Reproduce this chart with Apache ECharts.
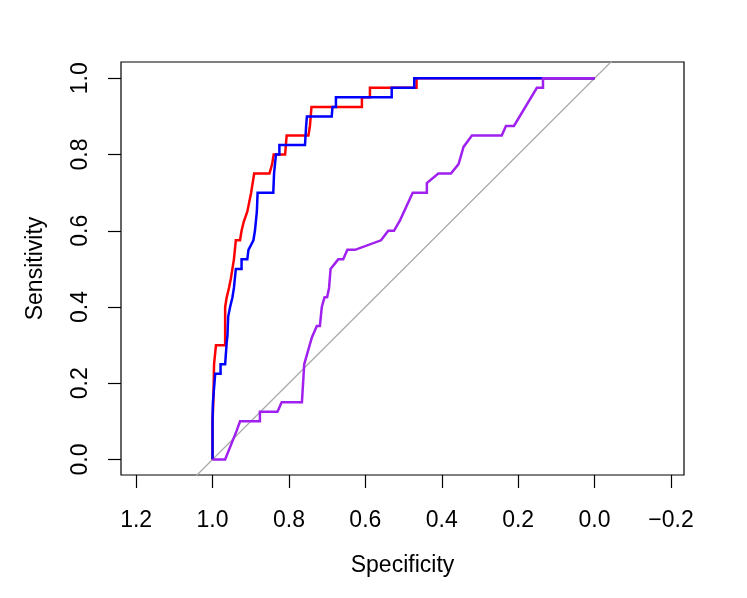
<!DOCTYPE html>
<html>
<head>
<meta charset="utf-8">
<script src="https://cdn.jsdelivr.net/npm/echarts@6/dist/echarts.min.js"></script>
<style>
  html, body { margin: 0; padding: 0; background: #fff; }
  #roc { width: 747px; height: 598px; }
</style>
</head>
<body>
<div id="roc"></div>
<script>
// ROC curves, [specificity, sensitivity]
var redRoc = [
    [1.0, 0], [1.0, 0.1], [0.998, 0.15], [0.996, 0.25], [0.991, 0.3], [0.967, 0.3],
    [0.967, 0.4], [0.963, 0.425], [0.957, 0.45], [0.952, 0.475], [0.948, 0.5],
    [0.944, 0.525], [0.939, 0.575], [0.928, 0.575], [0.924, 0.6], [0.918, 0.625],
    [0.909, 0.65], [0.904, 0.675], [0.899, 0.7], [0.895, 0.725], [0.891, 0.75],
    [0.851, 0.75], [0.844, 0.775], [0.840, 0.8], [0.810, 0.8], [0.806, 0.85],
    [0.749, 0.85], [0.745, 0.875], [0.741, 0.925], [0.609, 0.925], [0.609, 0.95],
    [0.588, 0.95], [0.588, 0.975], [0.466, 0.975], [0.466, 1.0], [0, 1.0]
];
var blueRoc = [
    [1.0, 0], [1.0, 0.1], [0.999, 0.1], [0.999, 0.15], [0.993, 0.225], [0.979, 0.225],
    [0.979, 0.25], [0.967, 0.25], [0.963, 0.306], [0.961, 0.325], [0.959, 0.375],
    [0.954, 0.4], [0.948, 0.425], [0.944, 0.45], [0.939, 0.5], [0.924, 0.5],
    [0.924, 0.525], [0.909, 0.525], [0.906, 0.55], [0.893, 0.575], [0.889, 0.6],
    [0.884, 0.65], [0.882, 0.7], [0.841, 0.7], [0.839, 0.75], [0.834, 0.8],
    [0.825, 0.8], [0.825, 0.825], [0.758, 0.825], [0.755, 0.875], [0.753, 0.9],
    [0.688, 0.9], [0.686, 0.925], [0.677, 0.925], [0.677, 0.95], [0.531, 0.95],
    [0.531, 0.975], [0.472, 0.975], [0.472, 1.0], [0, 1.0]
];
var purpleRoc = [
    [1.0, 0], [0.967, 0], [0.937, 0.075], [0.928, 0.1], [0.876, 0.1], [0.876, 0.125],
    [0.830, 0.125], [0.819, 0.15], [0.766, 0.15], [0.760, 0.25], [0.740, 0.32],
    [0.727, 0.35], [0.719, 0.35], [0.714, 0.4], [0.707, 0.425], [0.700, 0.426],
    [0.695, 0.45], [0.691, 0.5], [0.671, 0.525], [0.658, 0.525], [0.647, 0.55],
    [0.627, 0.55], [0.559, 0.575], [0.540, 0.6], [0.525, 0.6], [0.509, 0.628],
    [0.476, 0.7], [0.439, 0.7], [0.439, 0.725], [0.409, 0.75], [0.376, 0.75],
    [0.356, 0.775], [0.343, 0.82], [0.321, 0.85], [0.243, 0.85], [0.232, 0.875],
    [0.211, 0.875], [0.151, 0.975], [0.135, 0.975], [0.135, 1.0], [0, 1.0]
];
// chance line sens = 1 - spec (clipped to the plot box)
var chanceLine = [[1.3, -0.3], [-0.3, 1.3]];

var xTicks = [1.2, 1.0, 0.8, 0.6, 0.4, 0.2, 0.0, -0.2];
var yTicks = [0.0, 0.2, 0.4, 0.6, 0.8, 1.0];

var font = 'Liberation Sans, Arial, Helvetica, sans-serif';
var fmt = function (v) {
    var s = (Math.round(v * 10) / 10).toFixed(1);
    return s.charAt(0) === '-' ? '\u2212' + s.slice(1) : s;
};

function curve(data, color) {
    return {
        type: 'line',
        data: data,
        showSymbol: false,
        symbol: 'none',
        clip: true,
        lineStyle: { color: color, width: 2.5, join: 'miter' },
        emphasis: { disabled: true }
    };
}

var chart = echarts.init(document.getElementById('roc'));
var option = {
    animation: false,
    backgroundColor: '#fff',
    grid: {
        left: 121, right: 63, top: 62, bottom: 123,
        show: true, borderColor: '#000', borderWidth: 1.2, backgroundColor: 'transparent'
    },
    xAxis: {
        type: 'value',
        inverse: true,
        min: -0.2341, max: 1.2396,
        name: 'Specificity',
        nameLocation: 'middle',
        nameGap: 79,
        nameTextStyle: { fontFamily: font, fontSize: 23, color: '#000' },
        axisLine: { show: false, onZero: false },
        splitLine: { show: false },
        axisTick: { show: true, length: 13, inside: false, customValues: xTicks, lineStyle: { color: '#000', width: 1.2 } },
        axisLabel: { customValues: xTicks, formatter: fmt, margin: 34, fontFamily: font, fontSize: 23, color: '#000' }
    },
    yAxis: {
        type: 'value',
        min: -0.0407, max: 1.0428,
        name: 'Sensitivity',
        nameLocation: 'middle',
        nameGap: 74,
        nameRotate: 90,
        nameTextStyle: { fontFamily: font, fontSize: 23, color: '#000' },
        axisLine: { show: false, onZero: false },
        splitLine: { show: false },
        axisTick: { show: true, length: 13, inside: false, customValues: yTicks, lineStyle: { color: '#000', width: 1.2 } },
        axisLabel: { customValues: yTicks, formatter: fmt, rotate: 90, margin: 29, fontFamily: font, fontSize: 23, color: '#000' }
    },
    series: [
        {
            type: 'line',
            data: chanceLine,
            showSymbol: false,
            symbol: 'none',
            clip: true,
            lineStyle: { color: '#A9A9A9', width: 1.3 },
            emphasis: { disabled: true }
        },
        curve(redRoc, '#FF0000'),
        curve(blueRoc, '#0000FF'),
        curve(purpleRoc, '#A020F0')
    ]
};
chart.setOption(option);
</script>
</body>
</html>
